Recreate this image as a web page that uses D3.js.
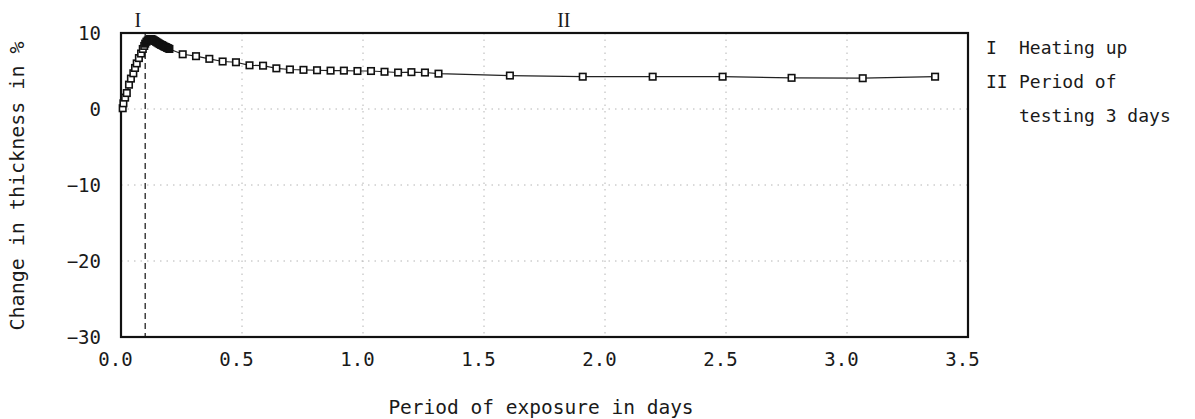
<!DOCTYPE html>
<html><head><meta charset="utf-8">
<script src="https://cdn.jsdelivr.net/npm/d3@7"></script>
<style>
body{margin:0;background:#fff;}
text{font-family:"DejaVu Sans Mono",monospace;fill:#1a1a1a;}
</style></head>
<body><svg id="c" width="1195" height="419"></svg>
<script>
// Heating-up phase (rising)
const riseDays = [0.007,0.010,0.017,0.024,0.033,0.041,0.051,0.058,0.065,0.074,0.083,0.090,0.096];
const riseVals = [0.1,0.75,1.5,2.1,3.2,4.0,4.7,5.4,6.0,6.7,7.3,7.9,8.3];
// dense measurements around the peak
const peakDays = [0.100,0.105,0.110,0.115,0.120,0.125,0.130,0.135,0.140,0.145,0.150,0.155,0.160,0.165,0.170,0.175,0.180,0.185,0.190,0.195,0.200];
const peakVals = [8.6,8.85,9.0,9.1,9.2,9.2,9.15,9.05,8.95,8.85,8.75,8.65,8.55,8.45,8.4,8.3,8.2,8.15,8.05,8.0,7.9];
// testing period
const testDays = [0.255,0.310,0.365,0.420,0.475,0.531,0.587,0.642,0.698,0.754,0.810,0.866,0.921,0.977,1.033,1.089,1.145,1.200,1.256,1.312,1.607,1.908,2.197,2.486,2.771,3.065,3.364];
const testVals = [7.2,6.95,6.6,6.25,6.15,5.75,5.7,5.35,5.2,5.15,5.1,5.05,5.05,5.0,5.0,4.9,4.8,4.85,4.8,4.65,4.4,4.25,4.25,4.25,4.1,4.05,4.25];
const xTicks = [0,0.5,1.0,1.5,2.0,2.5,3.0,3.5];
const yTicks = [-30,-20,-10,0,10];
const xGrid = [0.5,1.0,1.5,2.0,2.5,3.0];
const yGrid = [-20,-10,0];
const phaseBoundary = 0.1;
const phaseLabels = [{t:"I",d:0.07},{t:"II",d:1.83}];
const legendRows = [["I","Heating up"],["II","Period of"],["","testing 3 days"]];

const svg = d3.select("#c");
const x = d3.scaleLinear().domain([0,3.5]).range([121,968]);
const y = d3.scaleLinear().domain([-30,10]).range([337,33]);

// grid
svg.append("g").selectAll("line").data(xGrid).join("line")
  .attr("x1",d=>x(d)).attr("x2",d=>x(d)).attr("y1",y(10)).attr("y2",y(-30))
  .attr("stroke","#b4b4b4").attr("stroke-width",1).attr("stroke-dasharray","1.5,5");
svg.append("g").selectAll("line").data(yGrid).join("line")
  .attr("x1",x(0)).attr("x2",x(3.5)).attr("y1",d=>y(d)).attr("y2",d=>y(d))
  .attr("stroke","#b4b4b4").attr("stroke-width",1).attr("stroke-dasharray","1.5,5");

// dashed boundary
svg.append("line").attr("x1",x(phaseBoundary)).attr("x2",x(phaseBoundary))
  .attr("y1",y(10)).attr("y2",y(-30)).attr("stroke","#222").attr("stroke-width",1.3)
  .attr("stroke-dasharray","6,4");

// axes
const xa = svg.append("g").attr("transform",`translate(0,${y(-30)})`)
  .call(d3.axisBottom(x).tickValues(xTicks).tickSize(0).tickPadding(16).tickFormat(d3.format(".1f")));
xa.select(".domain").remove();
xa.selectAll("text").attr("font-size",19).attr("dx",-6).style("font-family","DejaVu Sans Mono");
const ya = svg.append("g").attr("transform",`translate(${x(0)},0)`)
  .call(d3.axisLeft(y).tickValues(yTicks).tickSize(0).tickPadding(20));
ya.select(".domain").remove();
ya.selectAll("text").attr("font-size",19).style("font-family","DejaVu Sans Mono");

// frame
svg.append("rect").attr("x",x(0)).attr("y",y(10)).attr("width",x(3.5)-x(0)).attr("height",y(-30)-y(10))
  .attr("fill","none").attr("stroke","#111").attr("stroke-width",2.2);

// data
const pts = [];
riseDays.forEach((d,i)=>pts.push([d,riseVals[i],0]));
peakDays.forEach((d,i)=>pts.push([d,peakVals[i],1]));
testDays.forEach((d,i)=>pts.push([d,testVals[i],0]));
svg.append("path").datum(pts).attr("fill","none").attr("stroke","#222").attr("stroke-width",1.2)
  .attr("d",d3.line().x(d=>x(d[0])).y(d=>y(d[1])));
const s = 6.5;
svg.append("g").selectAll("rect").data(pts).join("rect")
  .attr("x",d=>x(d[0])-s/2).attr("y",d=>y(d[1])-s/2).attr("width",s).attr("height",s)
  .attr("fill",d=>d[2]?"#111":"#fff").attr("stroke","#111").attr("stroke-width",1.6);

// phase labels
svg.append("g").selectAll("text").data(phaseLabels).join("text")
  .attr("x",d=>x(d.d)).attr("y",27).attr("text-anchor","middle")
  .style("font-family","Liberation Serif").attr("font-size",20).text(d=>d.t);

// legend
const lg = svg.append("g");
legendRows.forEach((r,i)=>{
  lg.append("text").attr("x",986).attr("y",54+i*34).attr("font-size",18).text(r[0]);
  lg.append("text").attr("x",1019).attr("y",54+i*34).attr("font-size",18).text(r[1]);
});

// axis titles
svg.append("text").attr("x",541).attr("y",414).attr("text-anchor","middle").attr("font-size",19.5)
  .text("Period of exposure in days");
svg.append("text").attr("transform","translate(24,186) rotate(-90)").attr("text-anchor","middle")
  .attr("font-size",20).text("Change in thickness in %");
</script></body></html>
